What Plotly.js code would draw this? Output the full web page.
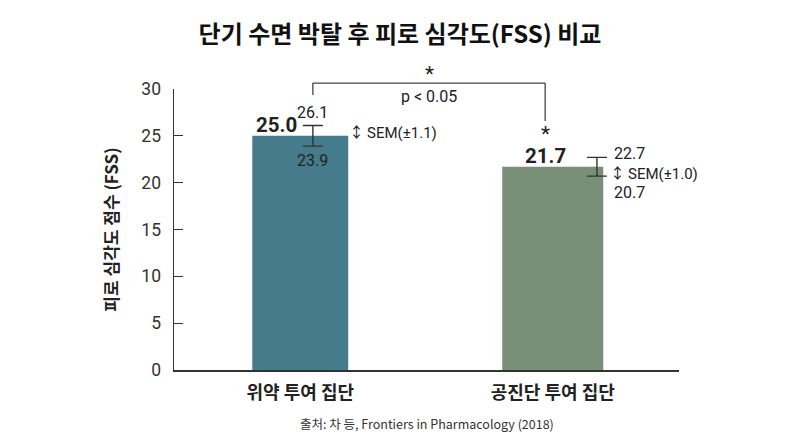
<!DOCTYPE html>
<html>
<head>
<meta charset="utf-8">
<script src="https://cdn.plot.ly/plotly-3.0.1.min.js"></script>
<style>
  html, body { margin: 0; padding: 0; background: #fff; }
  #chart { width: 800px; height: 436px; }
</style>
</head>
<body>
<div id="chart"></div>
<script>
// 데이터
const categories = ['위약 투여 집단', '공진단 투여 집단'];
const meanFSS = [25.0, 21.7];
const semUpper = [26.1, 22.7];
const semLower = [23.9, 20.7];
const semLabels = ['SEM(±1.1)', 'SEM(±1.0)'];
const starMarks = ['', '*'];
const pLabel = 'p < 0.05';
const sourceText = '출처: 차 등, Frontiers in Pharmacology (2018)';

// 스타일
const barColors = ['#467b8c', '#7a8f78'];
const barWidths = [0.38, 0.40];
const errOffset = [0.05, 0.175];      // 오차막대의 x 위치 (막대 중심 기준)
const valOffset = [-0.095, -0.03];    // 평균값 라벨 위치
const yMax = 30;
const fontMain = 'Roboto, "Noto Sans CJK KR", sans-serif';
const ink = '#222';

// 라벨 배치 (픽셀 단위)
const labelStyle = [
  { hi: { dx: 0, dy: 13, anchor: 'center' }, lo: { dx: 0, dy: -14, anchor: 'center' }, sem: { dx: 34, dy: 3 } },
  { hi: { dx: 15, dy: 4, anchor: 'left' }, lo: { dx: 15, dy: -16, anchor: 'left' }, sem: { dx: 11, dy: -7 } }
];

const xIdx = categories.map((c, i) => i);
const toPaperX = x => (x + 0.5) / 2;

const traceBars = {
  type: 'bar',
  x: xIdx,
  y: meanFSS,
  width: barWidths,
  marker: { color: barColors, line: { width: 0 } },
  hoverinfo: 'skip'
};

const traceErr = {
  type: 'scatter',
  mode: 'markers',
  x: xIdx.map(i => i + errOffset[i]),
  y: meanFSS,
  marker: { size: 1, opacity: 0 },
  error_y: {
    type: 'data',
    symmetric: false,
    array: semUpper.map((v, i) => v - meanFSS[i]),
    arrayminus: meanFSS.map((v, i) => v - semLower[i]),
    color: '#333',
    thickness: 1.4,
    width: 10
  },
  hoverinfo: 'skip'
};

const annotations = [];
xIdx.forEach(i => {
  const st = labelStyle[i];
  const ex = i + errOffset[i];
  // 평균값
  annotations.push({
    x: i + valOffset[i], y: meanFSS[i], xref: 'x', yref: 'y',
    text: '<b>' + meanFSS[i].toFixed(1) + '</b>', showarrow: false,
    yanchor: 'middle', yshift: 11,
    font: { family: fontMain, size: 20.5, color: ink }
  });
  // 상한 / 하한
  annotations.push({
    x: ex, y: semUpper[i], xref: 'x', yref: 'y',
    text: semUpper[i].toFixed(1), showarrow: false,
    xanchor: st.hi.anchor, yanchor: 'middle', xshift: st.hi.dx, yshift: st.hi.dy,
    font: { family: fontMain, size: 16, color: ink }
  });
  annotations.push({
    x: ex, y: semLower[i], xref: 'x', yref: 'y',
    text: semLower[i].toFixed(1), showarrow: false,
    xanchor: st.lo.anchor, yanchor: 'middle', xshift: st.lo.dx, yshift: st.lo.dy,
    font: { family: fontMain, size: 16, color: ink }
  });
  // SEM
  annotations.push({
    x: ex, y: meanFSS[i], xref: 'x', yref: 'y',
    text: '↕\u2009' + semLabels[i], showarrow: false,
    xanchor: 'left', yanchor: 'middle', xshift: st.sem.dx, yshift: st.sem.dy,
    font: { family: fontMain, size: 15, color: ink }
  });
  // 별표
  if (starMarks[i]) {
    annotations.push({
      x: i + valOffset[i], y: meanFSS[i], xref: 'x', yref: 'y',
      text: starMarks[i], showarrow: false,
      yanchor: 'middle', yshift: 33,
      font: { family: fontMain, size: 21, color: ink }
    });
  }
});

// 유의성 괄호
const brLeft = toPaperX(0 + errOffset[0]);
const brRight = toPaperX(1 + valOffset[1]);
const brTop = 1.021;
const shapes = [
  { type: 'line', xref: 'paper', yref: 'paper', x0: brLeft, x1: brLeft, y0: 0.979, y1: brTop, line: { color: '#444', width: 1.3 } },
  { type: 'line', xref: 'paper', yref: 'paper', x0: brLeft, x1: brRight, y0: brTop, y1: brTop, line: { color: '#444', width: 1.3 } },
  { type: 'line', xref: 'paper', yref: 'paper', x0: brRight, x1: brRight, y0: brTop, y1: 0.886, line: { color: '#444', width: 1.3 } }
];
annotations.push({
  x: (brLeft + brRight) / 2, y: 1.053, xref: 'paper', yref: 'paper',
  text: '*', showarrow: false, yanchor: 'middle',
  font: { family: fontMain, size: 21, color: ink }
});
annotations.push({
  x: (brLeft + brRight) / 2, y: 0.972, xref: 'paper', yref: 'paper',
  text: pLabel, showarrow: false, yanchor: 'middle',
  font: { family: fontMain, size: 16, color: ink }
});
// 출처
annotations.push({
  x: 0.5, y: -0.192, xref: 'paper', yref: 'paper',
  text: sourceText, showarrow: false, yanchor: 'middle',
  font: { family: '"Noto Sans CJK KR", sans-serif', size: 12.5, color: '#333' }
});

const layout = {
  width: 800,
  height: 436,
  paper_bgcolor: '#ffffff',
  plot_bgcolor: '#ffffff',
  margin: { l: 174, r: 121, t: 89, b: 66 },
  showlegend: false,
  title: {
    text: '<b>단기 수면 박탈 후 피로 심각도(FSS) 비교</b>',
    font: { family: '"Noto Sans CJK KR", sans-serif', size: 24, color: '#111' },
    x: 0.5, xref: 'container', xanchor: 'center',
    y: 0.92, yref: 'container', yanchor: 'middle'
  },
  xaxis: {
    type: 'linear',
    range: [-0.5, 1.5],
    tickvals: xIdx,
    ticktext: categories.map(c => '<b>' + c + '</b>'),
    ticks: '',
    showgrid: false,
    zeroline: false,
    showline: true,
    linecolor: '#333',
    linewidth: 1.5,
    tickfont: { family: '"Noto Sans CJK KR", sans-serif', size: 18, color: ink },
    ticklabelstandoff: 6
  },
  yaxis: {
    range: [0, yMax],
    dtick: 5,
    ticks: 'inside',
    ticklen: 9,
    tickwidth: 1.2,
    tickcolor: '#333',
    showgrid: false,
    zeroline: false,
    showline: true,
    linecolor: '#333',
    linewidth: 1.5,
    tickfont: { family: fontMain, size: 17.5, color: '#333' },
    ticklabelstandoff: 8,
    title: {
      text: '<b>피로 심각도 점수 (FSS)</b>',
      font: { family: '"Noto Sans CJK KR", sans-serif', size: 17, color: ink },
      standoff: 18
    }
  },
  shapes: shapes,
  annotations: annotations
};

Plotly.newPlot('chart', [traceBars, traceErr], layout, { displayModeBar: false, staticPlot: true });
</script>
</body>
</html>
